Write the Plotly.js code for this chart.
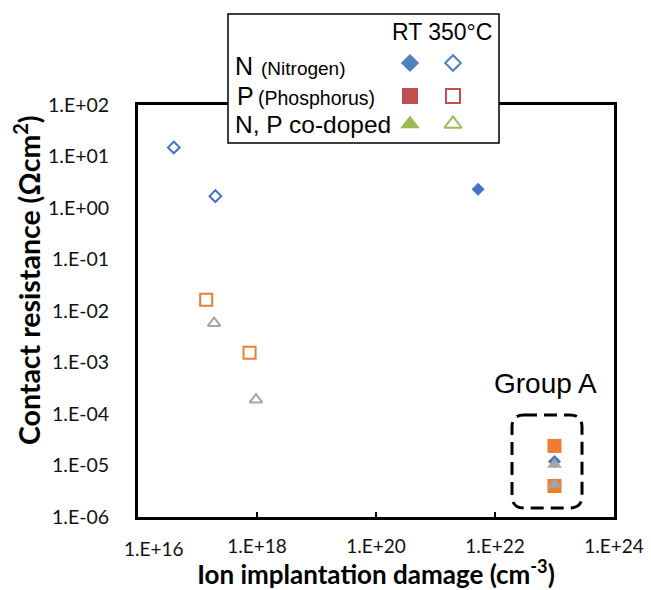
<!DOCTYPE html>
<html>
<head>
<meta charset="utf-8">
<script src="https://cdn.plot.ly/plotly-3.0.1.min.js"></script>
<style>html,body{margin:0;padding:0;background:#fff;}#chart{width:651px;height:590px;}</style>
</head>
<body>
<div id="chart"></div>
<script>
// ---- data ----
const nRT_x   = [5.2e21, 1e23];
const nRT_y   = [2.3, 1.2e-5];
const n350_x  = [4.0e16, 2.0e17];
const n350_y  = [15, 1.7];
const pRT_x   = [1e23, 1e23];
const pRT_y   = [2.4e-5, 4.0e-6];
const p350_x  = [1.4e17, 7.5e17];
const p350_y  = [0.0165, 0.00155];
const npRT_x  = [1e23, 1e23];
const npRT_y  = [1.05e-5, 4.3e-6];
const np350_x = [1.9e17, 9.6e17];
const np350_y = [0.0058, 1.9e-4];

const xTickVals = [1e16, 1e18, 1e20, 1e22, 1e24];
const xTickText = ["1.E+16", "1.E+18", "1.E+20", "1.E+22", "1.E+24"];
const yTickVals = [1e-6, 1e-5, 1e-4, 1e-3, 1e-2, 1e-1, 1e0, 1e1, 1e2];
const yTickText = ["1.E-06", "1.E-05", "1.E-04", "1.E-03", "1.E-02", "1.E-01", "1.E+00", "1.E+01", "1.E+02"];

const xTitle = "Ion implantation damage (cm<sup>-3</sup>)";
const yTitle = "Contact resistance (\u03a9cm<sup>2</sup>)";
const legendRows   = ["N", "P", "N, P co-doped"];
const legendSub    = ["(Nitrogen)", "(Phosphorus)"];
const legendHeader = "RT 350\u00b0C";
const groupLabel   = "Group A";

// ---- styles ----
const BLUE = "#4472C4", ORANGE = "#ED7D31", GRAY = "#A5A5A5";
const L_BLUE = "#4F81BD", L_RED = "#C0504D", L_GREEN = "#9BBB59";
const W = 651, H = 590;

function filled(x, y, sym, color, size) {
  return {x: x, y: y, type: "scatter", mode: "markers", hoverinfo: "skip", showlegend: false,
    marker: {symbol: sym, color: color, size: size, line: {width: 0}}};
}
function open(x, y, sym, color, size) {
  return {x: x, y: y, type: "scatter", mode: "markers", hoverinfo: "skip", showlegend: false,
    marker: {symbol: sym + "-open", color: color, size: size, line: {width: 2, color: color}}};
}

const traces = [
  open(n350_x, n350_y, "diamond", BLUE, 9),
  open(p350_x, p350_y, "square", ORANGE, 12),
  open(np350_x, np350_y, "triangle-up", GRAY, 11),
  filled(nRT_x, nRT_y, "diamond", BLUE, 10),
  filled(pRT_x, pRT_y, "square", ORANGE, 14),
  filled(npRT_x, npRT_y, "triangle-up", GRAY, 13)
];

// legend key samples (overlay pixel subplot x2/y2)
const keyColX = [410, 453];
const keyRowY = [63, 96, 124];
const keySyms = ["diamond", "square", "triangle-up"];
const keyCols = [L_BLUE, L_RED, L_GREEN];
const keySize = [14, 16, 17];
for (let i = 0; i < 3; i++) {
  traces.push({x: [keyColX[0]], y: [keyRowY[i]], xaxis: "x2", yaxis: "y2", type: "scatter", mode: "markers",
    hoverinfo: "skip", showlegend: false, cliponaxis: false,
    marker: {symbol: keySyms[i], color: keyCols[i], size: keySize[i], line: {width: 0}}});
  traces.push({x: [keyColX[1]], y: [keyRowY[i]], xaxis: "x2", yaxis: "y2", type: "scatter", mode: "markers",
    hoverinfo: "skip", showlegend: false, cliponaxis: false,
    marker: {symbol: keySyms[i] + "-open", color: keyCols[i], size: keySize[i] - 2, line: {width: 2, color: keyCols[i]}}});
}

const LF = "Liberation Sans, Arial, sans-serif";
const TF = "Lato, Open Sans, sans-serif";

const annotations = [
  {xref: "x2", yref: "y2", x: 390, y: 32, xanchor: "left", yanchor: "middle", showarrow: false,
   text: legendHeader, font: {family: LF, size: 23, color: "#000"}},
  {xref: "x2", yref: "y2", x: 233, y: 66, xanchor: "left", yanchor: "middle", showarrow: false,
   text: legendRows[0], font: {family: LF, size: 25, color: "#000"}},
  {xref: "x2", yref: "y2", x: 259, y: 68, xanchor: "left", yanchor: "middle", showarrow: false,
   text: legendSub[0], font: {family: LF, size: 19, color: "#000"}},
  {xref: "x2", yref: "y2", x: 235, y: 96, xanchor: "left", yanchor: "middle", showarrow: false,
   text: legendRows[1], font: {family: LF, size: 25, color: "#000"}},
  {xref: "x2", yref: "y2", x: 256, y: 98, xanchor: "left", yanchor: "middle", showarrow: false,
   text: legendSub[1], font: {family: LF, size: 19.5, color: "#000"}},
  {xref: "x2", yref: "y2", x: 233, y: 124, xanchor: "left", yanchor: "middle", showarrow: false,
   text: legendRows[2], font: {family: LF, size: 24.5, color: "#000"}},
  {xref: "x2", yref: "y2", x: 545, y: 383, xanchor: "center", yanchor: "middle", showarrow: false,
   text: groupLabel, font: {family: LF, size: 28, color: "#000"}},
  // first x tick label, nudged right as in the reference
  {xref: "x2", yref: "y2", x: 154, y: 548, xanchor: "center", yanchor: "middle", showarrow: false,
   text: xTickText[0], font: {family: TF, size: 19, color: "#111"}},
  // y-axis title, placed where the reference has it
  {xref: "x2", yref: "y2", x: 27, y: 280, xanchor: "center", yanchor: "middle", showarrow: false,
   textangle: -90, text: yTitle, font: {family: TF, size: 28.5, color: "#000", weight: "bold"}}
];

const shapes = [
  {type: "rect", xref: "x2", yref: "y2", x0: 228, x1: 499, y0: 14, y1: 143, layer: "below",
   fillcolor: "#fff", line: {color: "#000", width: 1.5}},
  {type: "path", xref: "x2", yref: "y2", layer: "below",
   path: "M 524,415 L 570,415 Q 582,415 582,427 L 582,496 Q 582,508 570,508 L 524,508 Q 512,508 512,496 L 512,427 Q 512,415 524,415 Z",
   line: {color: "#000", width: 3, dash: "13px,7px"}, fillcolor: "rgba(0,0,0,0)"}
];

const layout = {
  width: W, height: H,
  margin: {l: 0, r: 0, t: 0, b: 0},
  paper_bgcolor: "#fff", plot_bgcolor: "rgba(0,0,0,0)",
  showlegend: false,
  xaxis: {type: "log", range: [16, 24], domain: [138 / W, 614 / W], anchor: "y",
    tickvals: xTickVals.slice(1), ticktext: xTickText.slice(1), ticks: "inside", ticklen: 5, tickwidth: 1.5, tickcolor: "#000",
    showgrid: false, zeroline: false, showline: true, linecolor: "#000", linewidth: 3, mirror: true,
    tickfont: {family: TF, size: 19, color: "#111"}, ticklabelstandoff: 10,
    title: {text: xTitle, font: {family: TF, size: 26, color: "#000", weight: "bold"}, standoff: 6}},
  yaxis: {type: "log", range: [-6, 2], domain: [73 / H, 485 / H], anchor: "x",
    tickvals: yTickVals, ticktext: yTickText, ticks: "",
    showgrid: false, zeroline: false, showline: true, linecolor: "#000", linewidth: 3, mirror: true,
    tickfont: {family: TF, size: 19.5, color: "#111"}, ticklabelstandoff: 22},
  xaxis2: {domain: [0, 1], range: [0, W], anchor: "y2", visible: false, fixedrange: true},
  yaxis2: {domain: [0, 1], range: [H, 0], anchor: "x2", visible: false, fixedrange: true},
  annotations: annotations,
  shapes: shapes
};

Plotly.newPlot("chart", traces, layout, {displayModeBar: false, staticPlot: true});
</script>
</body>
</html>
